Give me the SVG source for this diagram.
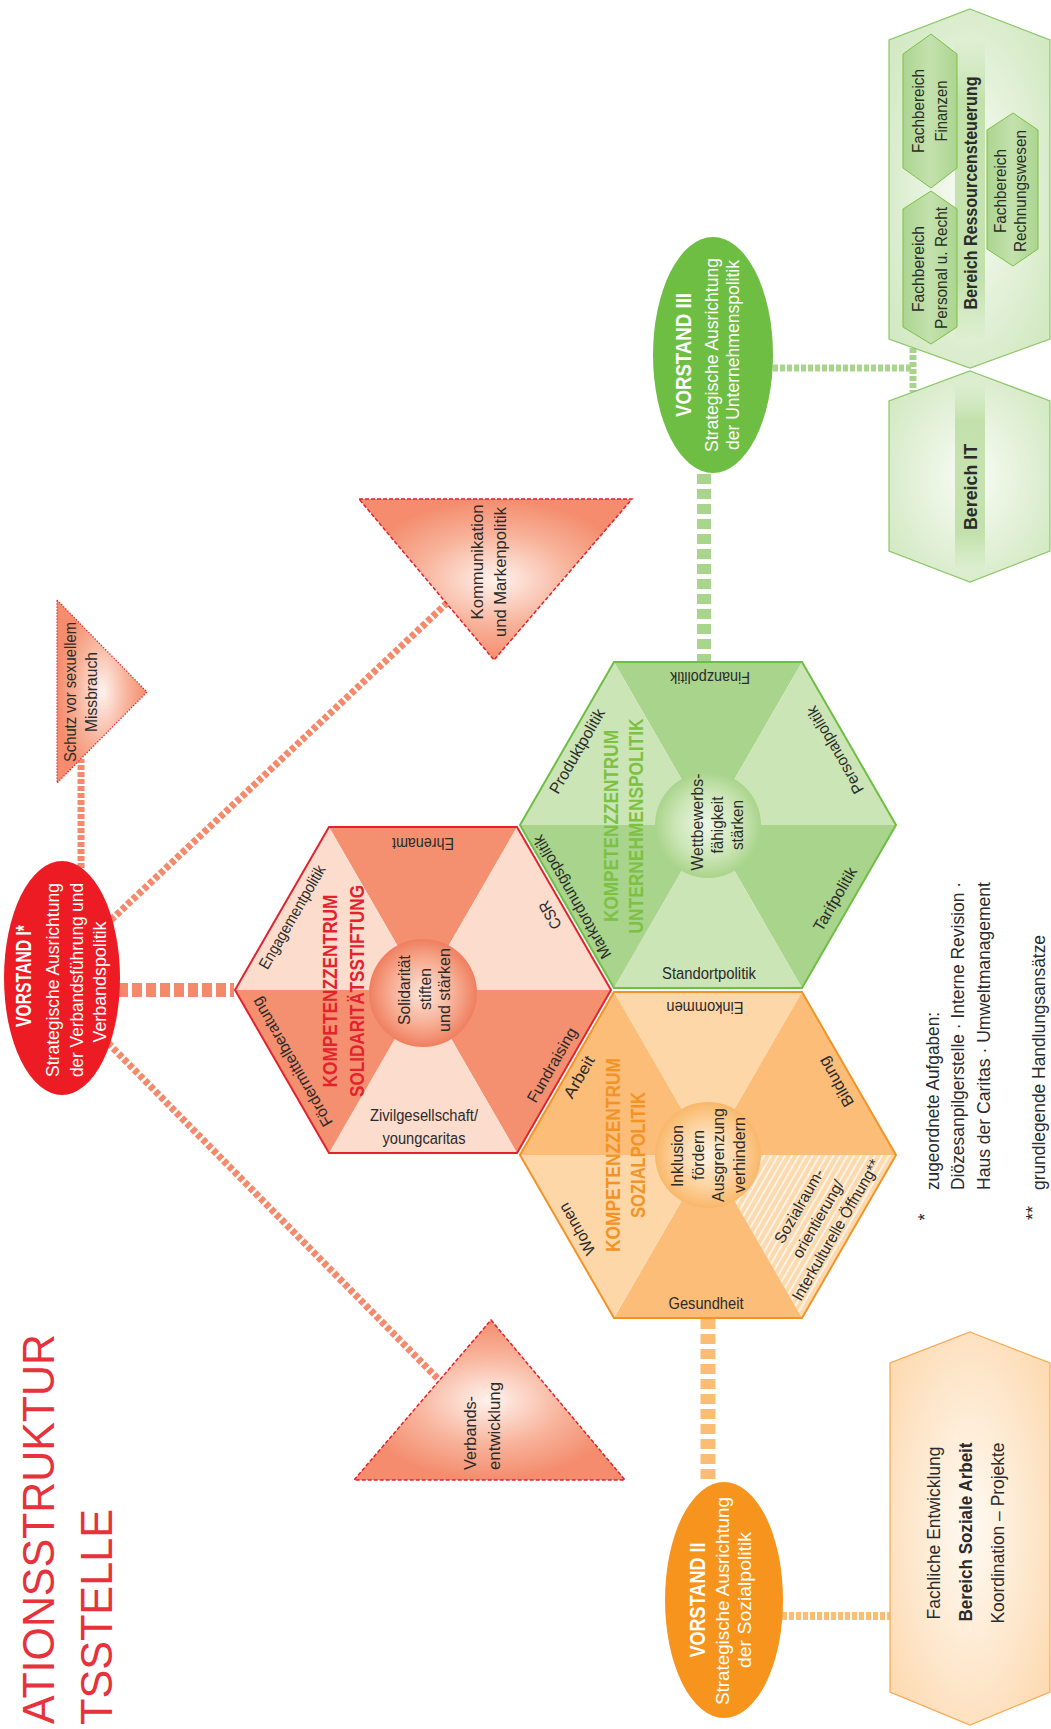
<svg xmlns="http://www.w3.org/2000/svg" width="1051" height="1729" viewBox="0 0 1051 1729">
<style>
.t{font-family:"Liberation Sans",Arial,sans-serif;fill:#2b2b2b;text-anchor:middle;dominant-baseline:central;font-size:16px}
.c17{font-size:17px}
.c18{font-size:18px}
.c19{font-size:19px}
.ttl{font-size:21px;font-weight:bold}
.b{font-weight:bold}
.w{fill:#ffffff}
.st{text-anchor:start}
.gD{fill:#a9d48b}.gL{fill:#cce5b7}
.rD{fill:#f4906f}.rL{fill:#fcdccd}
.oD{fill:#fbbd78}.oL{fill:#fdd7a8}
.hexG{fill:none;stroke:#6fbe44;stroke-width:2}
.hexR{fill:none;stroke:#e3222d;stroke-width:2}
.hexO{fill:none;stroke:#f39325;stroke-width:2}
.cg{stroke:#a9d48b;fill:none}
.cr{stroke:#f4896b;fill:none}
.co{stroke:#fbbc74;fill:none}
.tri{stroke:#e3222d;stroke-width:1.5;stroke-dasharray:4 2}
</style>
<defs>
<polygon id="tT" points="0,0 -94,-163 94,-163"/>
<polygon id="tUR" points="0,0 94,-163 188,0"/>
<polygon id="tLR" points="0,0 188,0 94,163"/>
<polygon id="tB" points="0,0 94,163 -94,163"/>
<polygon id="tLL" points="0,0 -94,163 -188,0"/>
<polygon id="tUL" points="0,0 -188,0 -94,-163"/>
<polygon id="hex" points="188,0 94,163 -94,163 -188,0 -94,-163 94,-163"/>
<pattern id="hatch" width="6" height="6" patternUnits="userSpaceOnUse" patternTransform="rotate(30)">
<rect width="6" height="6" fill="#fdd9ae"/>
<line x1="1" y1="0" x2="1" y2="6" stroke="#ffffff" stroke-width="1.4"/>
</pattern>
<radialGradient id="cirG" cx="50%" cy="50%" r="50%"><stop offset="0" stop-color="#eef7e8"/><stop offset="0.6" stop-color="#cde6b8"/><stop offset="1" stop-color="#a9d48b"/></radialGradient>
<radialGradient id="cirR" cx="50%" cy="50%" r="50%"><stop offset="0" stop-color="#fde6dc"/><stop offset="0.6" stop-color="#f7ad93"/><stop offset="1" stop-color="#ef7f5f"/></radialGradient>
<radialGradient id="cirO" cx="50%" cy="50%" r="50%"><stop offset="0" stop-color="#fff4e4"/><stop offset="0.6" stop-color="#fdd3a0"/><stop offset="1" stop-color="#f9b86a"/></radialGradient>
<radialGradient id="triGrad" cx="50%" cy="50%" r="50%"><stop offset="0" stop-color="#fff3ee"/><stop offset="0.55" stop-color="#f8b49c"/><stop offset="1" stop-color="#f48c6d"/></radialGradient>
<radialGradient id="boxG" cx="50%" cy="50%" r="60%"><stop offset="0" stop-color="#f9fcf6"/><stop offset="1" stop-color="#d3e9c3"/></radialGradient>
<radialGradient id="boxO" cx="50%" cy="50%" r="60%"><stop offset="0" stop-color="#fffaf3"/><stop offset="1" stop-color="#fddcb5"/></radialGradient>
<linearGradient id="fbG" x1="0" y1="0" x2="1" y2="0"><stop offset="0" stop-color="#acd590"/><stop offset="0.5" stop-color="#c3e1ad"/><stop offset="1" stop-color="#acd590"/></linearGradient>
<linearGradient id="band" x1="0" y1="0" x2="0" y2="1"><stop offset="0" stop-color="#b9dc9f" stop-opacity="0"/><stop offset="0.2" stop-color="#b9dc9f" stop-opacity="0.8"/><stop offset="0.8" stop-color="#b9dc9f" stop-opacity="0.8"/><stop offset="1" stop-color="#b9dc9f" stop-opacity="0"/></linearGradient>
</defs>

<g id="title">
<text class="t" style="font-size:44px;fill:#e5323b;text-anchor:end;dominant-baseline:auto" transform="translate(54,1334) rotate(-90)" textLength="390" lengthAdjust="spacingAndGlyphs">ATIONSSTRUKTUR</text>
<text class="t" style="font-size:44px;fill:#e5323b;text-anchor:end;dominant-baseline:auto" transform="translate(112,1509) rotate(-90)" textLength="216" lengthAdjust="spacingAndGlyphs">TSSTELLE</text>
</g>

<g id="connectors">
<line class="cg" x1="704" y1="474" x2="704" y2="661" stroke-width="14" stroke-dasharray="10 5"/>
<line class="cg" x1="773" y1="368" x2="913" y2="368" stroke-width="7" stroke-dasharray="5 2"/>
<line class="cg" x1="913" y1="348" x2="913" y2="392" stroke-width="7" stroke-dasharray="5 2"/>
<line class="co" x1="708" y1="1319" x2="708" y2="1484" stroke-width="15" stroke-dasharray="10 5"/>
<line class="co" x1="782" y1="1616" x2="890" y2="1616" stroke-width="8" stroke-dasharray="5 2"/>
<line class="cr" x1="118" y1="990" x2="234" y2="990" stroke-width="14" stroke-dasharray="10 4"/>
<line class="cr" x1="81" y1="868" x2="81" y2="759" stroke-width="7" stroke-dasharray="5 2"/>
<line class="cr" x1="111" y1="920" x2="447" y2="603" stroke-width="7" stroke-dasharray="5 2.5"/>
<line class="cr" x1="108" y1="1043" x2="440" y2="1381" stroke-width="7" stroke-dasharray="5 2.5"/>
</g>

<g id="ressourcen">
<polygon points="970,9 1050,40 1050,339 970,368 889,339 889,40" fill="url(#boxG)" stroke="#8dc76b" stroke-width="1.2"/>
<rect x="955" y="40" width="30" height="300" fill="url(#band)"/>
<polygon points="931,34 957,54 957,168 931,188 903,168 903,54" fill="url(#fbG)" stroke="#7cc142" stroke-width="1"/>
<polygon points="931,191 957,209 957,327 931,344 903,327 903,209" fill="url(#fbG)" stroke="#7cc142" stroke-width="1"/>
<polygon points="1013,113 1038,130 1038,249 1013,266 987,249 987,130" fill="url(#fbG)" stroke="#7cc142" stroke-width="1"/>
<text class="t c17" transform="translate(918,111) rotate(-90)" textLength="84" lengthAdjust="spacingAndGlyphs">Fachbereich</text>
<text class="t c17" transform="translate(941,111) rotate(-90)" textLength="61" lengthAdjust="spacingAndGlyphs">Finanzen</text>
<text class="t c17" transform="translate(918,269) rotate(-90)" textLength="86" lengthAdjust="spacingAndGlyphs">Fachbereich</text>
<text class="t c17" transform="translate(941,268) rotate(-90)" textLength="122" lengthAdjust="spacingAndGlyphs">Personal u. Recht</text>
<text class="t c19 b" transform="translate(970,193) rotate(-90)" textLength="233" lengthAdjust="spacingAndGlyphs">Bereich Ressourcensteuerung</text>
<text class="t c17" transform="translate(1000,191) rotate(-90)" textLength="84" lengthAdjust="spacingAndGlyphs">Fachbereich</text>
<text class="t c17" transform="translate(1020,191) rotate(-90)" textLength="122" lengthAdjust="spacingAndGlyphs">Rechnungswesen</text>
</g>

<g id="bereich-it">
<polygon points="970,371 1050,401 1050,551 970,582 889,551 889,401" fill="url(#boxG)" stroke="#8dc76b" stroke-width="1.2"/>
<rect x="955" y="383" width="30" height="188" fill="url(#band)"/>
<text class="t c19 b" transform="translate(970,487) rotate(-90)" textLength="86" lengthAdjust="spacingAndGlyphs">Bereich IT</text>
</g>

<g id="vorstand3">
<ellipse cx="713" cy="355" rx="60" ry="118" fill="#6fbe44"/>
<text class="t w b" style="font-size:22px" transform="translate(683,355) rotate(-90)" textLength="124" lengthAdjust="spacingAndGlyphs">VORSTAND III</text>
<text class="t w c18" transform="translate(712,355) rotate(-90)" textLength="194" lengthAdjust="spacingAndGlyphs">Strategische Ausrichtung</text>
<text class="t w c18" transform="translate(733,355) rotate(-90)" textLength="190" lengthAdjust="spacingAndGlyphs">der Unternehmenspolitik</text>
</g>

<g id="kommunikation">
<polygon class="tri" points="359,499 632,499 494,660" fill="url(#triGrad)"/>
<text class="t c17" transform="translate(477,562) rotate(-90)" textLength="115" lengthAdjust="spacingAndGlyphs">Kommunikation</text>
<text class="t c17" transform="translate(500,572) rotate(-90)" textLength="130" lengthAdjust="spacingAndGlyphs">und Markenpolitik</text>
</g>

<g id="schutz">
<polygon points="57,600 147,692 57,783" fill="url(#triGrad)" stroke="#e3222d" stroke-width="1.3" stroke-dasharray="1.3 1.7"/>
<text class="t c17" transform="translate(70,692) rotate(-90)" textLength="140" lengthAdjust="spacingAndGlyphs">Schutz vor sexuellem</text>
<text class="t c17" transform="translate(91,692) rotate(-90)" textLength="80" lengthAdjust="spacingAndGlyphs">Missbrauch</text>
</g>

<g id="verbandsentwicklung">
<polygon class="tri" points="491,1320 625,1480 354,1480" fill="url(#triGrad)"/>
<text class="t c17 st" transform="translate(470,1470) rotate(-90)" textLength="74" lengthAdjust="spacingAndGlyphs">Verbands-</text>
<text class="t c17 st" transform="translate(494,1470) rotate(-90)" textLength="88" lengthAdjust="spacingAndGlyphs">entwicklung</text>
</g>

<g id="vorstand1">
<ellipse cx="62" cy="978" rx="58" ry="117" fill="#ed1c24"/>
<text class="t w b" style="font-size:22px" transform="translate(23,976) rotate(-90)" textLength="102" lengthAdjust="spacingAndGlyphs">VORSTAND I*</text>
<text class="t w c18" transform="translate(53,980) rotate(-90)" textLength="194" lengthAdjust="spacingAndGlyphs">Strategische Ausrichtung</text>
<text class="t w c18" transform="translate(77,980) rotate(-90)" textLength="194" lengthAdjust="spacingAndGlyphs">der Verbandsführung und</text>
<text class="t w c18" transform="translate(100,982) rotate(-90)" textLength="121" lengthAdjust="spacingAndGlyphs">Verbandspolitik</text>
</g>

<g id="kz-unternehmenspolitik">
<g transform="translate(708,825)">
<use href="#tT" class="gD"/><use href="#tUR" class="gL"/><use href="#tLR" class="gD"/>
<use href="#tB" class="gL"/><use href="#tLL" class="gD"/><use href="#tUL" class="gL"/>
<use href="#hex" class="hexG"/>
<circle cx="0" cy="0" r="53" fill="url(#cirG)"/>
</g>
<text class="t" transform="translate(710,677) rotate(180)" textLength="80" lengthAdjust="spacingAndGlyphs">Finanzpolitik</text>
<text class="t" transform="translate(835,750) rotate(-120)" textLength="98" lengthAdjust="spacingAndGlyphs">Personalpolitik</text>
<text class="t" transform="translate(835,899) rotate(-60)" textLength="71" lengthAdjust="spacingAndGlyphs">Tarifpolitik</text>
<text class="t" transform="translate(709,973)" textLength="94" lengthAdjust="spacingAndGlyphs">Standortpolitik</text>
<text class="t" transform="translate(572,897) rotate(-120)" textLength="140" lengthAdjust="spacingAndGlyphs">Marktordnungspolitik</text>
<text class="t" transform="translate(577,751) rotate(-60)" textLength="95" lengthAdjust="spacingAndGlyphs">Produktpolitik</text>
<text class="t ttl" style="fill:#7cc142" transform="translate(610,826) rotate(-90)" textLength="192" lengthAdjust="spacingAndGlyphs">KOMPETENZZENTRUM</text>
<text class="t ttl" style="fill:#7cc142" transform="translate(635,826) rotate(-90)" textLength="215" lengthAdjust="spacingAndGlyphs">UNTERNEHMENSPOLITIK</text>
<text class="t c17" transform="translate(697,822) rotate(-90)" textLength="97" lengthAdjust="spacingAndGlyphs">Wettbewerbs-</text>
<text class="t c17" transform="translate(717,825) rotate(-90)" textLength="57" lengthAdjust="spacingAndGlyphs">fähigkeit</text>
<text class="t c17" transform="translate(737,825) rotate(-90)" textLength="50" lengthAdjust="spacingAndGlyphs">stärken</text>
</g>

<g id="kz-solidaritaetsstiftung">
<g transform="translate(423,990)">
<use href="#tT" class="rD"/><use href="#tUR" class="rL"/><use href="#tLR" class="rD"/>
<use href="#tB" class="rL"/><use href="#tLL" class="rD"/><use href="#tUL" class="rL"/>
<use href="#hex" class="hexR"/>
<circle cx="0" cy="3" r="54" fill="url(#cirR)"/>
</g>
<text class="t" transform="translate(423,843) rotate(180)" textLength="62" lengthAdjust="spacingAndGlyphs">Ehrenamt</text>
<text class="t" transform="translate(550,915) rotate(-120)" textLength="30" lengthAdjust="spacingAndGlyphs">CSR</text>
<text class="t" transform="translate(552,1065) rotate(-60)" textLength="84" lengthAdjust="spacingAndGlyphs">Fundraising</text>
<text class="t" transform="translate(424,1115)" textLength="108" lengthAdjust="spacingAndGlyphs">Zivilgesellschaft/</text>
<text class="t" transform="translate(424,1138)" textLength="83" lengthAdjust="spacingAndGlyphs">youngcaritas</text>
<text class="t" transform="translate(292,1062) rotate(-120)" textLength="146" lengthAdjust="spacingAndGlyphs">Fördermittelberatung</text>
<text class="t" transform="translate(292,917) rotate(-60)" textLength="117" lengthAdjust="spacingAndGlyphs">Engagementpolitik</text>
<text class="t ttl" style="fill:#e3222d" transform="translate(329,991) rotate(-90)" textLength="193" lengthAdjust="spacingAndGlyphs">KOMPETENZZENTRUM</text>
<text class="t ttl" style="fill:#e3222d" transform="translate(356,991) rotate(-90)" textLength="212" lengthAdjust="spacingAndGlyphs">SOLIDARITÄTSSTIFTUNG</text>
<text class="t c17" transform="translate(404,990) rotate(-90)" textLength="70" lengthAdjust="spacingAndGlyphs">Solidarität</text>
<text class="t c17" transform="translate(425,989) rotate(-90)" textLength="42" lengthAdjust="spacingAndGlyphs">stiften</text>
<text class="t c17" transform="translate(444,990) rotate(-90)" textLength="84" lengthAdjust="spacingAndGlyphs">und stärken</text>
</g>

<g id="kz-sozialpolitik">
<g transform="translate(708,1155)">
<use href="#tT" class="oL"/><use href="#tUR" class="oD"/><use href="#tLR" fill="url(#hatch)"/>
<use href="#tB" class="oD"/><use href="#tLL" class="oL"/><use href="#tUL" class="oD"/>
<use href="#hex" class="hexO"/>
<circle cx="0" cy="0" r="53" fill="url(#cirO)"/>
</g>
<text class="t" transform="translate(705,1007) rotate(180)" textLength="77" lengthAdjust="spacingAndGlyphs">Einkommen</text>
<text class="t" transform="translate(836,1082) rotate(-120)" textLength="55" lengthAdjust="spacingAndGlyphs">Bildung</text>
<text class="t" transform="translate(579,1077) rotate(-60)" textLength="46" lengthAdjust="spacingAndGlyphs">Arbeit</text>
<text class="t" transform="translate(577,1229) rotate(-120)" textLength="57" lengthAdjust="spacingAndGlyphs">Wohnen</text>
<text class="t" transform="translate(706,1303)" textLength="75" lengthAdjust="spacingAndGlyphs">Gesundheit</text>
<text class="t" transform="translate(799,1206) rotate(-60)" textLength="83" lengthAdjust="spacingAndGlyphs">Sozialraum-</text>
<text class="t" transform="translate(818,1219) rotate(-60)" textLength="87" lengthAdjust="spacingAndGlyphs">orientierung/</text>
<text class="t" transform="translate(836,1230) rotate(-60)" textLength="160" lengthAdjust="spacingAndGlyphs">Interkulturelle Öffnung**</text>
<text class="t ttl" style="fill:#f39325" transform="translate(612,1155) rotate(-90)" textLength="194" lengthAdjust="spacingAndGlyphs">KOMPETENZZENTRUM</text>
<text class="t ttl" style="fill:#f39325" transform="translate(637,1155) rotate(-90)" textLength="126" lengthAdjust="spacingAndGlyphs">SOZIALPOLITIK</text>
<text class="t c17" transform="translate(677,1156) rotate(-90)" textLength="62" lengthAdjust="spacingAndGlyphs">Inklusion</text>
<text class="t c17" transform="translate(698,1155) rotate(-90)" textLength="50" lengthAdjust="spacingAndGlyphs">fördern</text>
<text class="t c17" transform="translate(718,1155) rotate(-90)" textLength="94" lengthAdjust="spacingAndGlyphs">Ausgrenzung</text>
<text class="t c17" transform="translate(739,1155) rotate(-90)" textLength="76" lengthAdjust="spacingAndGlyphs">verhindern</text>
</g>

<g id="footnotes">
<text class="t c18" transform="translate(925,1217) rotate(-90)">*</text>
<text class="t c18 st" transform="translate(933,1190) rotate(-90)" textLength="178" lengthAdjust="spacingAndGlyphs">zugeordnete Aufgaben:</text>
<text class="t c18 st" transform="translate(958,1190) rotate(-90)" textLength="308" lengthAdjust="spacingAndGlyphs">Diözesanpilgerstelle · Interne Revision ·</text>
<text class="t c18 st" transform="translate(984,1190) rotate(-90)" textLength="308" lengthAdjust="spacingAndGlyphs">Haus der Caritas · Umweltmanagement</text>
<text class="t c18" transform="translate(1033,1213) rotate(-90)">**</text>
<text class="t c18 st" transform="translate(1039,1190) rotate(-90)" textLength="255" lengthAdjust="spacingAndGlyphs">grundlegende Handlungsansätze</text>
</g>

<g id="vorstand2">
<ellipse cx="724" cy="1600" rx="59" ry="118" fill="#f7941d"/>
<text class="t w b" style="font-size:22px" transform="translate(697,1600) rotate(-90)" textLength="115" lengthAdjust="spacingAndGlyphs">VORSTAND II</text>
<text class="t w c18" transform="translate(723,1601) rotate(-90)" textLength="208" lengthAdjust="spacingAndGlyphs">Strategische Ausrichtung</text>
<text class="t w c18" transform="translate(745,1600) rotate(-90)" textLength="136" lengthAdjust="spacingAndGlyphs">der Sozialpolitik</text>
</g>

<g id="soziale-arbeit">
<polygon points="970,1332 1050,1363 1050,1692 970,1725 890,1692 890,1363" fill="url(#boxO)" stroke="#f7a950" stroke-width="1.2"/>
<text class="t c19" transform="translate(933,1533) rotate(-90)" textLength="173" lengthAdjust="spacingAndGlyphs">Fachliche Entwicklung</text>
<text class="t c19 b" transform="translate(965,1532) rotate(-90)" textLength="179" lengthAdjust="spacingAndGlyphs">Bereich Soziale Arbeit</text>
<text class="t c19" transform="translate(997,1533) rotate(-90)" textLength="181" lengthAdjust="spacingAndGlyphs">Koordination – Projekte</text>
</g>
</svg>
